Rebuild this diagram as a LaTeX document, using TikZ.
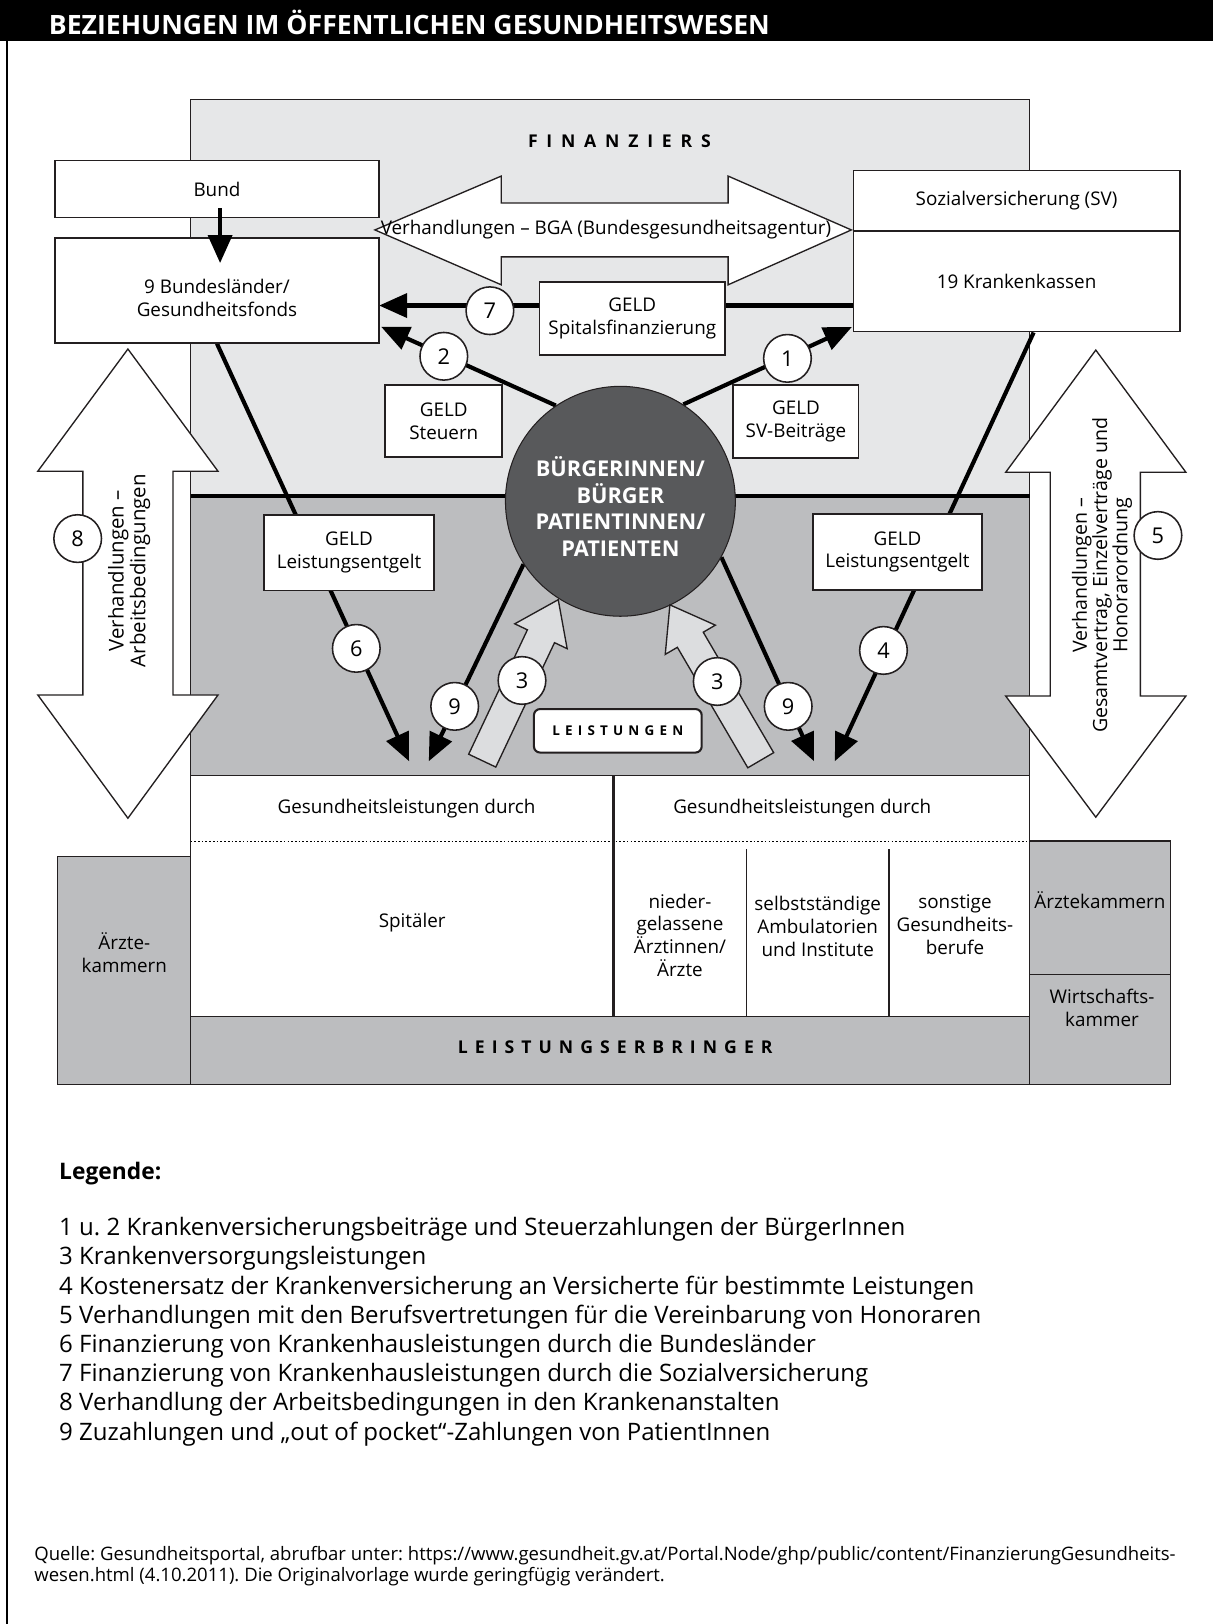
\documentclass[tikz,border=0pt]{standalone}
\usepackage{fontspec}
\setmainfont{Open Sans}
\usetikzlibrary{arrows.meta,calc}
\definecolor{lightg}{HTML}{E6E7E8}
\definecolor{midg}{HTML}{BCBDBF}
\definecolor{darkc}{HTML}{58595B}
\definecolor{blockg}{HTML}{DCDDDF}
\definecolor{ink}{HTML}{231F20}
\newcommand\bxf{\fontsize{18.2}{22}\selectfont}
\newcommand\nmf{\fontsize{21}{21}\selectfont}
\newcommand\lgf{\fontsize{23.2}{28}\selectfont}
\newlength\spk
\newcommand\ls{\kern\spk}
\pgfdeclarelayer{bg}
\pgfdeclarelayer{lines}
\pgfsetlayers{bg,lines,main}
\begin{document}
\begin{tikzpicture}[x=1pt,y=-1pt,
  bx/.style={draw=ink, line width=1.6pt, fill=white, inner sep=0pt, align=center, font=\bxf},
  txt/.style={inner sep=0pt, align=center, font=\bxf},
  num/.style={circle, draw=ink, line width=1.5pt, fill=white, minimum size=46pt, inner sep=0pt, font=\nmf},
  flow/.style={line width=4pt, draw=black},
  arr/.style={-{Triangle[length=27pt,width=23pt]}},
  panel/.style={draw=ink, line width=1pt},
  bigarrow/.style={draw=ink, line width=1.3pt, fill=white},
  blockarrow/.style={draw=ink, line width=1.3pt, fill=blockg},
  leg/.style={anchor=west, inner sep=0pt, font=\lgf},
]
\useasboundingbox (0,0) rectangle (1171,1568);
\frenchspacing

\begin{pgfonlayer}{bg}
\fill[white] (0,0) rectangle (1171,1568);
% regions
\filldraw[fill=lightg, draw=ink, line width=1pt] (184,96) rectangle (994,480);
\filldraw[fill=midg, draw=ink, line width=1pt] (184,480) rectangle (994,749);
\draw[line width=4pt] (184,479) -- (994,479);
% bottom panels
\filldraw[fill=white, panel] (184,749) rectangle (994,981);
\filldraw[fill=midg, panel] (184,981) rectangle (994,1047.4);
\filldraw[fill=midg, panel] (55.4,827) rectangle (184,1047.4);
\filldraw[fill=midg, panel] (994,812) rectangle (1130.5,941);
\filldraw[fill=midg, panel] (994,941) rectangle (1130.5,1047.4);
\draw[line width=1.5pt, dash pattern=on 1.6pt off 2pt] (184,812.5) -- (994,812.5);
\draw[line width=3.5pt, ink] (592.4,749) -- (592.4,981);
\draw[line width=1.5pt, ink] (720.7,820) -- (720.7,981);
\draw[line width=1.5pt, ink] (858.5,820) -- (858.5,981);
% big white arrows
\filldraw[bigarrow] (362,222) -- (484,170) -- (484,196) -- (703,196) -- (703,170) -- (822,222) -- (703,275) -- (703,248) -- (484,248) -- (484,275) -- cycle;
\filldraw[bigarrow] (123.5,337) -- (210.5,455) -- (167,455) -- (167,671) -- (210.5,671) -- (123.5,790) -- (36.5,671) -- (80,671) -- (80,455) -- (36.5,455) -- cycle;
\filldraw[bigarrow] (1058,338) -- (1145,456) -- (1101,456) -- (1101,672) -- (1145,672) -- (1058,789) -- (971,672) -- (1014,672) -- (1014,456) -- (971,456) -- cycle;
\end{pgfonlayer}

% header
\fill[black] (0,0) rectangle (1171,40);
\node[anchor=west, inner sep=0pt, text=white, font=\fontsize{25.7}{25.7}\selectfont\bfseries] (title) at (47,22) {BEZIEHUNGEN IM ÖFFENTLICHEN GESUNDHEITSWESEN};
\draw[line width=1.5pt] (7,40) -- (7,1568);

% region labels
\node[font=\fontsize{17}{17}\selectfont\bfseries, inner sep=0pt] (fin) at (598,136) {\setlength\spk{8.5pt}F\ls I\ls N\ls A\ls N\ls Z\ls I\ls E\ls R\ls S};
\node[font=\fontsize{17}{17}\selectfont\bfseries, inner sep=0pt] (lerb) at (594,1011) {\setlength\spk{6.8pt}L\ls E\ls I\ls S\ls T\ls U\ls N\ls G\ls S\ls E\ls R\ls B\ls R\ls I\ls N\ls G\ls E\ls R};

% arrow texts
\node[txt] (bga) at (585,222) {Verhandlungen – BGA (Bundesgesundheitsagentur)};
\node[txt, rotate=90, font=\fontsize{19.7}{21}\selectfont] (t8) at (124.8,551) {Verhandlungen –\\Arbeitsbedingungen};
\node[txt, rotate=90, font=\fontsize{18.9}{19.5}\selectfont] (t5) at (1064,555.5) {Verhandlungen –\\Gesamtvertrag, Einzelverträge und\\Honorarordnung};

% bottom texts
\node[txt] (gd1) at (392.5,781) {Gesundheitsleistungen durch};
\node[txt] (gd2) at (774.5,781) {Gesundheitsleistungen durch};
\node[txt] (spit) at (398,891) {Spitäler};
\node[txt] (nied) at (656.5,903) {nieder-\\gelassene\\Ärztinnen/\\Ärzte};
\node[txt] (selb) at (789.5,894.7) {selbstständige\\Ambulatorien\\und Institute};
\node[txt] (sons) at (922,892.7) {sonstige\\Gesundheits-\\berufe};
\node[txt] (aek1) at (120,920) {Ärzte-\\kammern};
\node[txt] (aek2) at (1062,869) {Ärztekammern};
\node[txt] (wk) at (1064,973) {Wirtschafts-\\kammer};

% top boxes
\node[bx, minimum width=313pt, minimum height=55pt] (bund) at (209.5,182.5) {Bund};
\node[bx, minimum width=313pt, minimum height=101pt] (laender) at (209.5,280.5) {};
\node[txt] (laendertxt) at (209.5,287.5) {9 Bundesländer/\\Gesundheitsfonds};
\node[bx, minimum width=315pt, minimum height=59pt] (sv) at (981.5,194) {Sozialversicherung (SV)};
\node[bx, minimum width=315pt, minimum height=97pt] (kk) at (981.5,271.5) {19 Krankenkassen};

% big circle
\node[circle, fill=darkc, draw=ink, line width=1pt, minimum size=222pt, inner sep=0pt] (cit) at (599,484) {};
\node[inner sep=0pt, align=center, text=white, font=\fontsize{21}{25.7}\selectfont\bfseries] (cittxt) at (599,489) {BÜRGERINNEN/\\BÜRGER\\PATIENTINNEN/\\PATIENTEN};

% connector end points
\coordinate (b1) at (212.5,201);
\coordinate (b2) at (212.5,254);
\coordinate (s7) at (824,295);
\coordinate (e7) at (366,295);
\coordinate (t2) at (368,315.5);
\coordinate (t1) at (822.5,315.7);
\coordinate (t6) at (395,735);
\coordinate (s4) at (998,321);
\coordinate (t4) at (806,735);
\coordinate (t9a) at (414,735);
\coordinate (t9b) at (786,735);

\begin{pgfonlayer}{lines}
\draw[flow, arr] (s7) -- (e7);
\draw[flow, arr] (cit.124.6) -- (t2);
\draw[flow, arr] (cit.57.4) -- (t1);
\draw[flow, arr] (laender.south) -- (t6);
\draw[flow, arr] (s4) -- (t4);
\draw[flow, arr] (cit.-147.3) -- (t9a);
\draw[flow, arr] (cit.-29.7) -- (t9b);
\end{pgfonlayer}
\draw[flow, arr] (b1) -- (b2);

% GELD boxes
\node[bx, minimum width=179pt, minimum height=71pt] (gsp) at (610.5,307.5) {GELD\\Spitalsfinanzierung};
\node[bx, minimum width=113pt, minimum height=69pt] (gst) at (428.5,406.5) {GELD\\Steuern};
\node[bx, minimum width=121pt, minimum height=70pt] (gsv) at (768.5,407) {GELD\\SV-Beiträge};
\node[bx, minimum width=164pt, minimum height=73pt] (gl1) at (337,533.5) {GELD\\Leistungsentgelt};
\node[bx, minimum width=163pt, minimum height=73pt] (gl2) at (866.5,533) {GELD\\Leistungsentgelt};
\node[bx, rounded corners=6pt, line width=2pt, minimum width=162pt, minimum height=42pt, font=\fontsize{13}{13}\selectfont\bfseries] (leist) at (596.5,705.6) {\setlength\spk{5pt}L\ls E\ls I\ls S\ls T\ls U\ls N\ls G\ls E\ls N};

% block arrows 3
\filldraw[blockarrow] (452.5,728.2) -- (509.2,608.1) -- (497,602.3) -- (539,579) -- (547.6,626.3) -- (535.4,620.5) -- (478.7,740.6) -- cycle;
\filldraw[blockarrow] (747,726.7) -- (679,610.4) -- (690.7,603.6) -- (646.8,584) -- (642.3,631.8) -- (654,625) -- (722,741.3) -- cycle;

% number circles
\node[num] (n7) at (473,300) {7};
\node[num] (n2) at (428.5,344) {2};
\node[num] (n1) at (760.3,346) {1};
\node[num] (n6) at (344,626) {6};
\node[num] (n4) at (853,628) {4};
\node[num] (n9a) at (439,682) {9};
\node[num] (n9b) at (761,682) {9};
\node[num] (n3a) at (504,657) {3};
\node[num] (n3b) at (692.5,658) {3};
\node[num] (n8) at (75,520) {8};
\node[num] (n5) at (1118,517) {5};

% legend
\node[leg, font=\fontsize{22}{26}\selectfont\bfseries] (legt) at (57,1133) {Legende:};
\node[leg] (l1) at (57,1187) {1 u. 2 Krankenversicherungsbeiträge und Steuerzahlungen der BürgerInnen};
\node[leg] (l3) at (57,1215.2) {3 Krankenversorgungsleistungen};
\node[leg] (l4) at (57,1243.4) {4 Kostenersatz der Krankenversicherung an Versicherte für bestimmte Leistungen};
\node[leg] (l5) at (57,1271.6) {5 Verhandlungen mit den Berufsvertretungen für die Vereinbarung von Honoraren};
\node[leg] (l6) at (57,1299.8) {6 Finanzierung von Krankenhausleistungen durch die Bundesländer};
\node[leg] (l7) at (57,1328) {7 Finanzierung von Krankenhausleistungen durch die Sozialversicherung};
\node[leg] (l8) at (57,1356.2) {8 Verhandlung der Arbeitsbedingungen in den Krankenanstalten};
\node[leg] (l9) at (57,1384.4) {9 Zuzahlungen und „out of pocket“-Zahlungen von PatientInnen};

\node[leg, font=\fontsize{17.9}{20}\selectfont] (q1) at (33,1502) {Quelle: Gesundheitsportal, abrufbar unter: https://www.gesundheit.gv.at/Portal.Node/ghp/public/content/FinanzierungGesundheits-};
\node[leg, font=\fontsize{17.9}{20}\selectfont] (q2) at (33,1522) {wesen.html (4.10.2011). Die Originalvorlage wurde geringfügig verändert.};
\end{tikzpicture}
\end{document}
